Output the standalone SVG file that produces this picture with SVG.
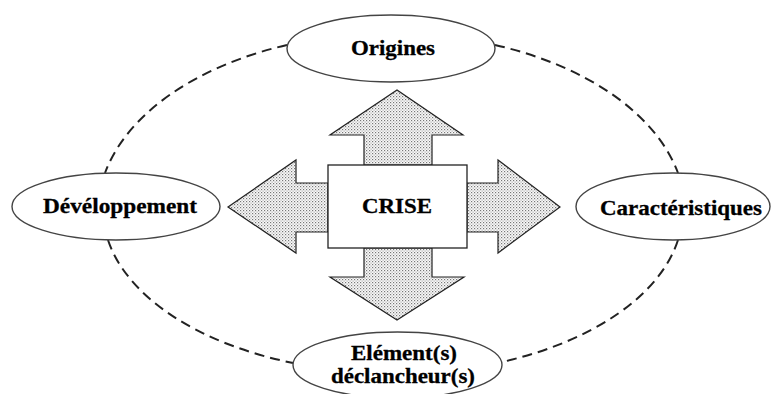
<svg xmlns="http://www.w3.org/2000/svg" width="771" height="394" viewBox="0 0 771 394">
<style>
.node ellipse{fill:#fff;stroke:#444;stroke-width:1.4}
.lbl{font-family:"Liberation Serif","Times New Roman",serif;font-weight:bold;font-size:21px;fill:#000;text-anchor:middle;stroke:#000;stroke-width:0.3}
.dash{fill:none;stroke:#222;stroke-width:2;stroke-dasharray:10 6}
.arrow{fill:url(#dots);stroke:#222;stroke-width:1.2}
</style>
<defs>
<pattern id="dots" width="3" height="3" patternUnits="userSpaceOnUse">
<rect width="3" height="3" fill="#fafafa"/>
<rect x="0" y="0" width="1.2" height="1.2" fill="#777"/>
<rect x="1.5" y="1.5" width="1.2" height="1.2" fill="#aaa"/>
</pattern>
</defs>
<rect width="771" height="394" fill="#fff"/>
<g id="connectors">
<path class="dash" d="M287,45 A292,179 0 0 0 105,173"/>
<path class="dash" d="M495,45 A292,179 0 0 1 678,173"/>
<path class="dash" d="M108,240 A288,163 0 0 0 293,363"/>
<path class="dash" d="M678,240 A288,163 0 0 1 502,362"/>
<polygon class="arrow" points="364,165 364,135 330,135 397,90 463,135 432,135 432,165"/>
<polygon class="arrow" points="364,248 364,277 330,277 397,320 464,277 432,277 432,248"/>
<polygon class="arrow" points="328,183 296,183 296,160 228,207 296,253 296,232 328,232"/>
<polygon class="arrow" points="467,183 498,183 498,160 560,207 498,253 498,232 467,232"/>
</g>
<g id="crise" class="node">
<rect x="328" y="165" width="139" height="83" fill="#fff" stroke="#222" stroke-width="1.3"/>
<text class="lbl" x="397" y="213" textLength="70" lengthAdjust="spacingAndGlyphs">CRISE</text>
</g>
<g id="origines" class="node">
<ellipse cx="391" cy="48.5" rx="104" ry="33.5"/>
<text class="lbl" x="393" y="55" textLength="84" lengthAdjust="spacingAndGlyphs">Origines</text>
</g>
<g id="developpement" class="node">
<ellipse cx="116" cy="206.5" rx="104" ry="33.5"/>
<text class="lbl" x="120" y="213" textLength="154" lengthAdjust="spacingAndGlyphs">Dévéloppement</text>
</g>
<g id="caracteristiques" class="node">
<ellipse cx="673" cy="206.5" rx="97" ry="33.5"/>
<text class="lbl" x="681" y="215" textLength="162" lengthAdjust="spacingAndGlyphs">Caractéristiques</text>
</g>
<g id="declencheurs" class="node">
<ellipse cx="397.5" cy="365" rx="104.5" ry="33"/>
<text class="lbl" x="404" y="360" textLength="106" lengthAdjust="spacingAndGlyphs">Elément(s)</text>
<text class="lbl" x="403" y="383" textLength="144" lengthAdjust="spacingAndGlyphs">déclancheur(s)</text>
</g>
</svg>
